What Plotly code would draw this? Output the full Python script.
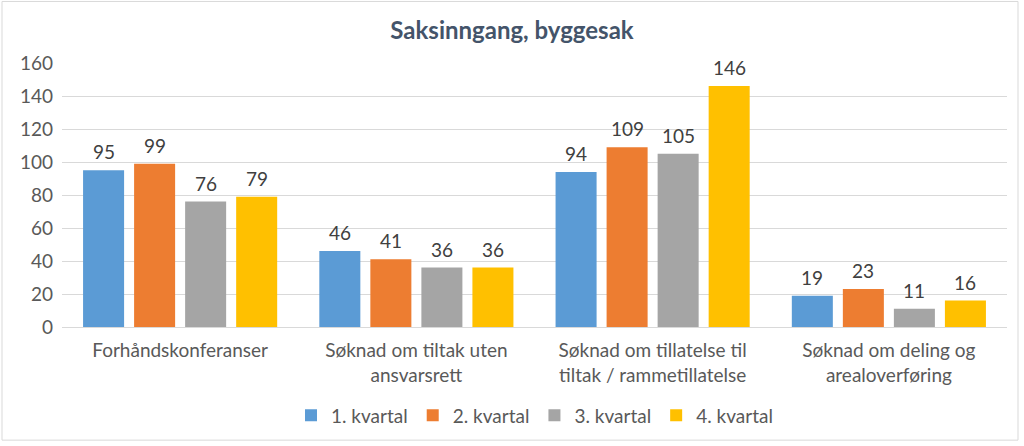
import plotly.graph_objects as go

categories = ["Forhåndskonferanser", "Søknad om tiltak uten<br>ansvarsrett",
              "Søknad om tillatelse til<br>tiltak / rammetillatelse", "Søknad om deling og<br>arealoverføring"]
series_names = ["1. kvartal", "2. kvartal", "3. kvartal", "4. kvartal"]
q1 = [95, 46, 94, 19]
q2 = [99, 41, 109, 23]
q3 = [76, 36, 105, 11]
q4 = [79, 36, 146, 16]
colors = ["#5B9BD5", "#ED7D31", "#A5A5A5", "#FFC000"]
y_ticks = [0, 20, 40, 60, 80, 100, 120, 140, 160]

FONT = "Lato, 'Open Sans', sans-serif"

L, R, T, B = 62, 17, 63, 117
W, H = 1024, 446
pw = W - L - R
ph = H - T - B
slot_px = pw / 4 * (1 - 0.136) / 4

fig = go.Figure()
annotations = []
all_series = [q1, q2, q3, q4]
for i, (name, vals, col) in enumerate(zip(series_names, all_series, colors)):
    fig.add_trace(go.Bar(
        x=categories, y=vals, name=name,
        marker=dict(color=col, line=dict(width=0)),
    ))
    for c, v in zip(categories, vals):
        annotations.append(dict(
            x=c, y=v, text=str(v), showarrow=False,
            xref="x", yref="y", xanchor="center", yanchor="bottom",
            xshift=(i - 1.5) * slot_px, yshift=5,
            font=dict(size=19, color="#404040", family=FONT),
        ))

fig.update_layout(
    width=W, height=H,
    margin=dict(l=L, r=R, t=T, b=B, pad=0),
    paper_bgcolor="white", plot_bgcolor="white",
    barmode="group", bargap=0.136, bargroupgap=0.196,
    title=dict(text="<b>Saksinngang, byggesak</b>", x=0.5, xanchor="center",
               y=1 - 31 / H, yanchor="middle",
               font=dict(size=24, color="#44546A", family=FONT)),
    font=dict(family=FONT, color="#595959", size=19),
    showlegend=True,
    legend=dict(orientation="h", x=0.5, xanchor="center",
                y=(H - B - 418) / ph, yanchor="middle",
                font=dict(size=19, color="#595959"),
                itemwidth=30, traceorder="normal"),
    xaxis=dict(showgrid=False, showline=True, linecolor="#D9D9D9", linewidth=1,
               ticks="", tickfont=dict(size=19, color="#595959"),
               ticklabelstandoff=6),
    yaxis=dict(range=[0, 160], tickvals=y_ticks, showgrid=True,
               gridcolor="#D9D9D9", gridwidth=1, zeroline=False,
               showline=False, ticks="", tickfont=dict(size=19, color="#595959"),
               ticklabelstandoff=8),
    annotations=annotations,
    shapes=[dict(type="rect", xref="paper", yref="paper",
                 x0=(2 - L) / pw, x1=(1018 - L) / pw,
                 y0=(H - B - 443) / ph, y1=(H - B - 1) / ph,
                 line=dict(color="#D9D9D9", width=1), fillcolor="rgba(0,0,0,0)",
                 layer="below")],
)

fig.write_html("out.html")
